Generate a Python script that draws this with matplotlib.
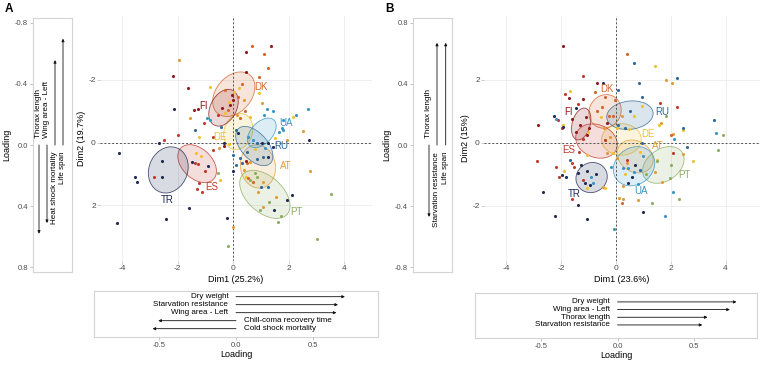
import matplotlib
matplotlib.use('Agg')
import matplotlib.pyplot as plt
from matplotlib.patches import Ellipse

plt.rcParams['font.family'] = ['Liberation Sans', 'DejaVu Sans']
plt.rcParams['axes.unicode_minus'] = False

pops = ['AT', 'DE', 'DK', 'ES', 'FI', 'PT', 'RU', 'TR', 'UA']
pop_colors = ['#E39B3A', '#EEC131', '#D4662C', '#C23A2B', '#8E1B1B',
              '#8DAE62', '#2F6A9A', '#1F2A55', '#3B95C4']

# ---- panel A individuals (Dim1, Dim2)
A_AT = [(0.12, -0.88), (2.52, -0.38), (1.95, -0.08), (0.6, 0.63), (0.38, 0.87), (1.08, 1.24),
        (0.9, 1.56), (1.54, 1.74), (2.76, 0.89), (1.08, 2.06), (0.0, 2.68), (-0.5, 0.18),
        (-1.95, -2.63), (0.38, -1.36), (1.02, -1.27), (-1.56, -0.77)]
A_DE = [(-0.3, -0.93), (-0.17, -1.29), (0.02, -1.62), (0.6, -0.83), (0.92, -1.57), (2.14, -0.83),
        (1.5, -0.16), (0.78, 0.21), (0.46, 1.08), (-1.34, 0.34), (-1.17, 0.42), (-0.48, 1.19),
        (-0.85, -1.78), (0.2, -1.73), (-1.23, -0.17), (-0.17, 0.05)]
A_DK = [(0.68, -3.06), (1.27, -2.38), (0.92, -2.08), (1.1, -2.82), (0.18, -1.44), (0.42, -0.99),
        (0.24, -0.77), (-0.18, -1.04), (0.5, 0.66), (0.72, 1.24), (0.54, 1.14), (0.3, -1.85),
        (-0.3, -1.66)]
A_ES = [(-1.05, -0.62), (-1.98, -0.24), (-2.49, -0.08), (-0.74, -0.17), (-2.85, 1.08), (-1.38, 0.66),
        (-1.26, 0.68), (-1.02, 0.89), (-1.23, 1.3), (-1.3, 1.48), (-1.11, 1.56), (-0.74, 0.23),
        (-0.54, -0.88)]
A_FI = [(1.36, -3.09), (0.46, -2.88), (0.46, -2.25), (-1.26, -1.07), (-1.41, -1.03), (-0.06, -1.52),
        (-0.42, -1.09), (-0.12, -1.2), (0.0, -1.36), (0.46, 0.6), (-0.35, 0.1), (-2.16, -2.12),
        (-1.63, -1.75)]
A_PT = [(0.78, 0.98), (0.84, 1.08), (0.96, 2.14), (1.71, 2.34), (1.62, 2.52), (3.54, 1.65),
        (3.03, 3.07), (-0.18, 3.28), (-0.54, 0.98), (1.3, 1.9), (0.6, 1.2)]
A_RU = [(0.84, 0.02), (0.5, 0.29), (1.06, 0.45), (0.84, 0.53), (0.3, 0.66), (0.26, 0.48),
        (0.0, 0.39), (1.0, 1.4), (0.1, 0.72), (1.26, 1.4), (-1.38, -0.4), (-0.44, -0.51), (0.1, -0.4)]
A_TR = [(2.73, -0.08), (0.18, -0.32), (1.02, 0.02), (1.26, 0.02), (1.44, 0.13), (1.26, 0.45),
        (-0.02, 0.9), (2.1, 1.67), (1.92, 1.83), (1.47, 2.14), (-0.24, 2.41), (-2.56, 0.58),
        (-2.58, 1.11), (-3.54, 1.08), (-3.46, 1.24), (-4.17, 2.57), (-2.43, 2.43), (-1.59, 2.09),
        (-2.13, -1.07), (-4.12, 0.34), (-2.68, 0.02), (-1.47, 0.62), (-0.9, 0.76), (-0.34, 0.02)]
A_UA = [(2.68, -1.07), (2.25, -0.88), (1.8, -0.72), (1.74, -0.46), (1.8, -0.4), (1.66, -0.33),
        (1.22, -1.07), (1.44, -0.99), (1.1, -0.88), (0.54, -0.19), (0.72, -0.08), (1.14, 0.18),
        (-0.94, -0.77), (-0.84, -0.72)]

# ---- panel B individuals
B_AT = [(1.81, 1.99), (2.03, 1.88), (1.63, 0.61), (2.08, 0.26), (2.46, -0.36), (1.44, -0.92),
        (1.67, -1.24), (0.82, -1.82), (0.27, -1.8), (0.12, -1.77), (-0.46, -1.42), (-0.43, 0.46),
        (0.21, 0.83), (-0.22, 0.19), (0.39, -0.66), (0.02, -0.5), (-0.34, -0.34), (0.27, -1.38)]
B_DE = [(1.42, 2.43), (-1.68, 1.65), (0.94, 1.16), (1.57, 0.56), (2.46, 0.41), (2.8, -0.6),
        (1.48, -0.55), (-1.89, -0.89), (-1.07, -1.45), (-0.4, -1.45), (-1.07, -0.39), (-1.01, 0.35),
        (0.49, 0.42), (0.67, 0.83), (-0.56, 0.8), (0.02, 0.46), (-0.1, -0.34), (0.88, -0.29),
        (0.33, -0.99), (-1.95, 0.55)]
B_DK = [(0.41, 2.8), (-0.77, 1.62), (2.0, 0.24), (0.23, -1.93), (-0.24, 0.85), (-0.12, 0.85),
        (-0.52, 1.12), (-0.4, 1.46), (-0.04, 1.35), (-0.7, 1.0)]
B_ES = [(-1.22, 2.13), (-1.86, 1.53), (-1.37, 1.23), (1.62, 1.25), (2.24, 1.12), (-1.98, 0.46),
        (-2.13, 0.72), (2.07, -0.32), (-1.62, -1.8), (-2.9, -0.6), (-2.19, -0.76), (-2.07, -1.08),
        (-1.62, -0.66), (-1.52, -0.76), (-1.22, -1.19), (-1.35, -0.29), (-1.19, 0.11), (-0.4, 0.08),
        (0.39, -0.55)]
B_FI = [(-1.92, 3.07), (-0.68, 1.9), (-1.70, 1.41), (-1.19, 1.38), (-2.83, 0.56), (-1.07, 0.24),
        (-0.34, 0.61), (-1.3, 0.55), (-1.45, 0.35), (-1.1, 0.8), (-1.0, 0.45), (-1.6, 0.75)]
B_PT = [(1.82, 0.85), (3.92, 0.24), (3.71, -0.23), (2.01, -0.71), (1.97, -1.13), (2.3, -1.8),
        (1.3, -1.93), (1.5, -0.6), (1.1, -1.0)]
B_RU = [(0.67, 2.54), (2.24, 2.04), (0.85, 1.9), (0.09, 1.67), (0.96, 1.46), (2.43, 0.46),
        (3.59, 0.72), (2.58, -0.13), (-1.68, -0.55), (0.09, 0.56), (0.33, 0.46), (0.88, -0.87),
        (0.94, -0.02), (0.5, 1.0)]
B_TR = [(-0.49, 1.9), (-1.46, 1.09), (-2.26, 0.83), (-1.95, 0.51), (1.0, -2.19), (-1.07, -2.43),
        (-1.4, -1.98), (-2.23, -2.33), (-2.68, -1.56), (-1.98, -1.03), (-1.82, -1.1), (-1.37, -0.97),
        (-1.13, -1.29), (-1.29, -0.71), (0.69, -0.71), (0.57, -1.08), (0.43, -1.27), (-1.05, -0.9),
        (-0.72, -1.0), (-0.95, -1.35)]
B_UA = [(-2.19, 0.75), (3.67, 0.32), (2.13, 0.11), (2.09, -1.58), (1.79, -2.32), (-0.07, -2.75),
        (-0.83, -1.29), (0.66, -0.92), (0.45, -0.81), (0.27, -0.81), (1.0, -0.44), (-0.19, -0.76),
        (0.82, -1.32), (-0.9, -1.1)]

# confidence ellipses: centre x, centre y, width, height, angle
ELL_A = [(0.89, 0.76, 1.4, 1.25, 70), (0.18, -0.35, 1.2, 1.0, -60), (0.02, -1.54, 1.7, 1.2, -39),
         (-1.3, 0.67, 1.55, 1.0, 35), (-0.35, -1.11, 1.3, 0.9, -53), (1.14, 1.65, 2.05, 1.2, 35),
         (0.76, 0.11, 1.6, 0.9, 41), (-2.34, 0.87, 1.55, 1.35, -50), (1.03, -0.31, 1.2, 0.72, -39)]
ELL_B = [(0.7, -0.44, 1.35, 1.0, -20), (0.2, 0.1, 1.45, 1.0, 0), (-0.4, 0.99, 1.2, 1.05, 20),
         (-0.71, 0.05, 1.55, 1.05, -15), (-1.27, 0.59, 1.05, 0.65, 70), (1.73, -0.71, 1.6, 1.05, 25),
         (0.51, 0.87, 1.7, 0.9, 5), (-0.89, -1.11, 1.15, 0.95, 10), (0.66, -0.75, 1.55, 1.2, 20)]
LAB_A = [(1.9, 0.73), (-0.48, -0.19), (1.0, -1.76), (-0.78, 1.43), (-1.06, -1.17),
         (2.28, 2.22), (1.74, 0.11), (-2.38, 1.84), (1.9, -0.62)]
LAB_B = [(1.51, -0.1), (1.18, 0.26), (-0.32, 1.70), (-1.72, -0.23), (-1.72, 0.97),
         (2.49, -1.03), (1.69, 0.96), (-1.52, -1.63), (0.9, -1.53)]

# ---- loadings
A_dim2_vars = ['Thorax length', 'Wing area - Left', 'Heat shock mortality', 'Life span']
A_dim2_load = [0.58, 0.51, -0.555, -0.695]
A_dim1_vars = ['Dry weight', 'Starvation resistance', 'Wing area - Left',
               'Chill-coma recovery time', 'Cold shock mortality']
A_dim1_load = [0.71, 0.665, 0.655, -0.507, -0.544]
B_dim2_vars = ['Thorax length', 'Starvation resistance', 'Life span']
B_dim2_load = [-0.47, 0.668, 0.668]
B_dim1_vars = ['Dry weight', 'Wing area - Left', 'Thorax length', 'Starvation resistance']
B_dim1_load = [0.776, 0.733, 0.587, 0.553]

W, H = 764, 365
fig = plt.figure(figsize=(W / 100, H / 100), dpi=100)
TICKC = '#4d4d4d'
BOXC = '#d4d4d4'


def px_axes(l, t, r, b):
    return fig.add_axes([l / W, 1 - b / H, (r - l) / W, (b - t) / H])


def arrow(ax, x0, y0, x1, y1):
    ax.annotate('', xy=(x1, y1), xytext=(x0, y0),
                arrowprops=dict(arrowstyle='-|>', color='#111111', lw=0.6,
                                mutation_scale=4, shrinkA=0, shrinkB=0))


def scatter_panel(ax, groups, ells, labs, xlim, ylim, xlab, ylab):
    ax.set_xlim(xlim)
    ax.set_ylim(ylim)
    for s in ax.spines.values():
        s.set_visible(False)
    ax.set_xticks([-4, -2, 0, 2, 4])
    ax.set_yticks([-2, 0, 2])
    ax.grid(color='#ebebeb', lw=0.6)
    ax.set_axisbelow(True)
    ax.tick_params(labelsize=6, colors='#bbbbbb', labelcolor=TICKC, length=2, width=0.5, pad=1)
    ax.axhline(0, color='#555555', lw=0.7, ls=(0, (2, 2)))
    ax.axvline(0, color='#555555', lw=0.7, ls=(0, (2, 2)))
    for pts, (cx, cy, w, h, a), col in zip(groups, ells, pop_colors):
        ax.add_patch(Ellipse((cx, cy), w, h, angle=a, facecolor=col, alpha=0.17, edgecolor='none'))
        ax.add_patch(Ellipse((cx, cy), w, h, angle=a, fill=False, edgecolor=col, lw=0.6, alpha=0.8))
    for pts, col in zip(groups, pop_colors):
        xs, ys = zip(*pts)
        ax.scatter(xs, ys, s=5, c=col, lw=0, zorder=3)
    for name, (lx, ly), col in zip(pops, labs, pop_colors):
        ax.text(lx, ly, name, color=col, fontsize=7, ha='center', va='center', zorder=4)
    ax.set_xlabel(xlab, fontsize=6.5, labelpad=2)
    ax.set_ylabel(ylab, fontsize=6.5, labelpad=2)


def vloading(ax, xs, vals, names, inverted):
    ax.set_xlim(0, 39)
    ax.set_ylim((0.83, -0.83) if inverted else (-0.83, 0.83))
    ax.set_xticks([])
    ax.set_yticks([-0.8, -0.4, 0.0, 0.4, 0.8])
    ax.set_yticklabels(['-0.8', '-0.4', '0.0', '0.4', '0.8'])
    ax.tick_params(labelsize=5.5, colors='#aaaaaa', labelcolor=TICKC, length=2.5, width=0.5, pad=1)
    for s in ax.spines.values():
        s.set_color(BOXC)
        s.set_linewidth(0.8)
    for x, v, n in zip(xs, vals, names):
        arrow(ax, x, 0, x, v)
        down = (v > 0) == inverted
        off = -0.045 if v > 0 else 0.045
        ax.text(x, off, n, rotation=90, fontsize=5.8, ha='center',
                va='bottom' if down else 'top')
    ax.set_ylabel('Loading', fontsize=6.5, labelpad=3)


def hloading(ax, vals, names, xlim, ylim):
    ax.set_xlim(xlim)
    ax.set_ylim(ylim)
    ax.set_yticks([])
    ax.set_xticks([-0.5, 0.0, 0.5])
    ax.set_xticklabels(['-0.5', '0.0', '0.5'])
    ax.tick_params(labelsize=5.5, colors='#aaaaaa', labelcolor=TICKC, length=2.5, width=0.5, pad=1)
    for s in ax.spines.values():
        s.set_color(BOXC)
        s.set_linewidth(0.8)
    for i, (v, n) in enumerate(zip(vals, names)):
        y = i + 1
        arrow(ax, 0, y, v, y)
        if v > 0:
            ax.text(-0.05, y, n, fontsize=5.8, ha='right', va='center')
        else:
            ax.text(0.05, y, n, fontsize=5.8, ha='left', va='center')
    ax.set_xlabel('Loading', fontsize=6.5, labelpad=1)


groups_a = [A_AT, A_DE, A_DK, A_ES, A_FI, A_PT, A_RU, A_TR, A_UA]
groups_b = [B_AT, B_DE, B_DK, B_ES, B_FI, B_PT, B_RU, B_TR, B_UA]

# panel A
ax = px_axes(100, 16, 372, 261)
scatter_panel(ax, groups_a, ELL_A, LAB_A, (-4.8, 5.0), (3.77, -4.03), 'Dim1 (25.2%)', 'Dim2 (19.7%)')
ax = px_axes(33, 18, 72, 272)
vloading(ax, [6, 14, 22, 30], A_dim2_load, A_dim2_vars, True)
ax = px_axes(94, 291, 378, 337)
hloading(ax, A_dim1_load, A_dim1_vars, (-0.926, 0.926), (6.04, 0.29))

# panel B
ax = px_axes(484, 16, 760, 261)
scatter_panel(ax, groups_b, ELL_B, LAB_B, (-4.82, 5.26), (-3.76, 4.02), 'Dim1 (23.6%)', 'Dim2 (15%)')
ax = px_axes(413, 18, 452, 272)
vloading(ax, [16, 24, 32.7], B_dim2_load, B_dim2_vars, False)
ax = px_axes(475, 293, 757, 338)
hloading(ax, B_dim1_load, B_dim1_vars, (-0.93, 0.91), (5.7, -0.16))

fig.text(5 / W, 1 - 9 / H, 'A', fontsize=8.5, fontweight='bold', va='center')
fig.text(385 / W, 1 - 9 / H, 'B', fontsize=8.5, fontweight='bold', va='center')

fig.savefig('out.png', dpi=100)
